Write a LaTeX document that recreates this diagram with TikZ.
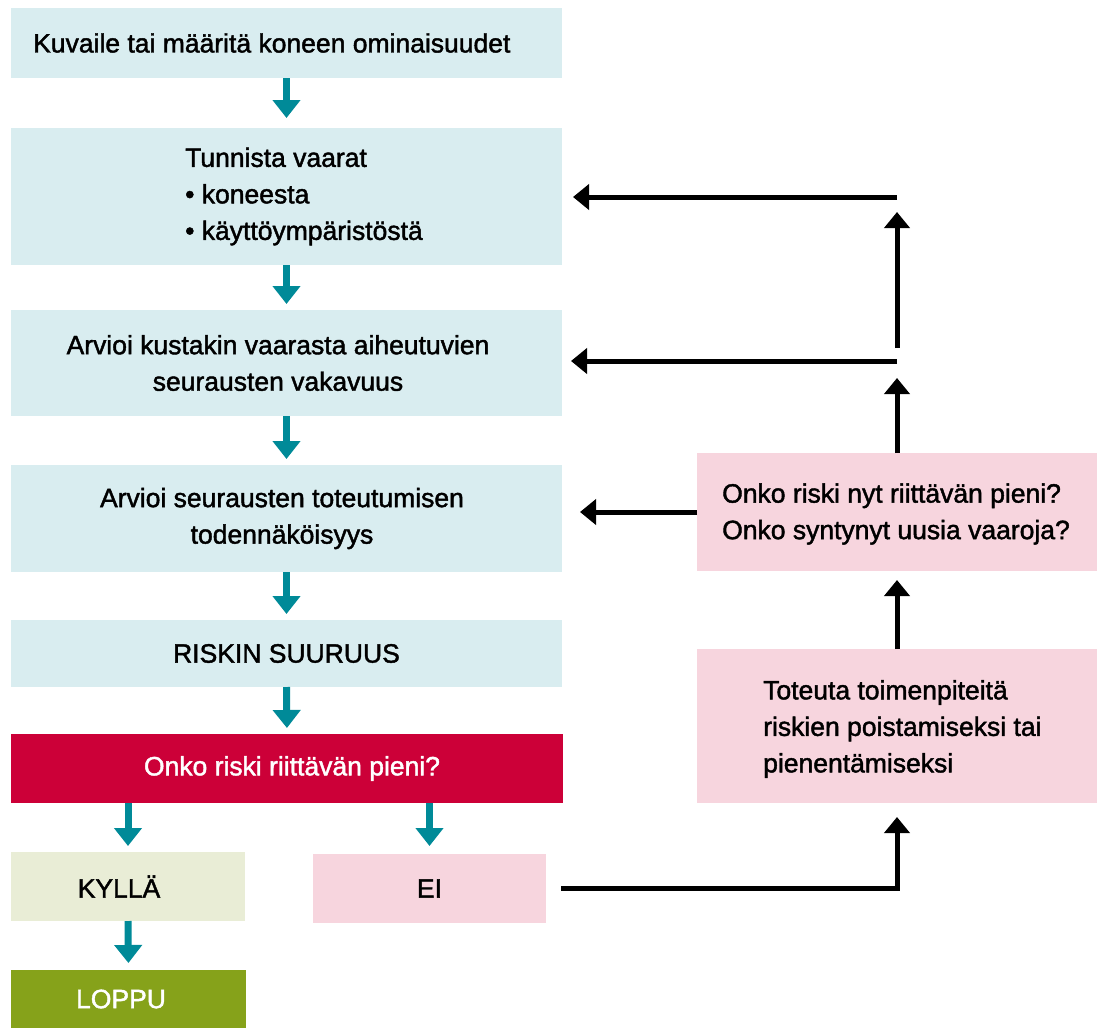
\documentclass[tikz,border=0pt]{standalone}
\usepackage{fontspec}
\setmainfont[FakeBold=1.6]{Liberation Sans}
\usetikzlibrary{arrows.meta}

\definecolor{stepblue}{HTML}{D9EDF0}
\definecolor{flowteal}{HTML}{008A98}
\definecolor{actpink}{HTML}{F7D5DE}
\definecolor{askred}{HTML}{CC0038}
\definecolor{yesgreen}{HTML}{E9EDD6}
\definecolor{endgreen}{HTML}{86A21A}

\begin{document}
\begin{tikzpicture}[x=1pt,y=-1pt,
  every node/.style={font=\fontsize{26.5}{36.5}\selectfont},
  panel/.style={rectangle, inner sep=0pt, outer sep=0pt, anchor=north west, align=center},
  txt/.style={inner sep=0pt, anchor=west, align=left},
  tarr/.style={draw=flowteal, line width=7pt, -{Triangle[width=27pt,length=18pt]}},
  blk/.style={draw=black, line width=5pt, -{Triangle[width=25pt,length=16pt]}}]

\useasboundingbox (0,0) rectangle (1099,1028);

% left column
\node[panel, fill=stepblue, minimum width=551pt, minimum height=70pt] (b1) at (11,8) {};
\node[txt] (t1) at (33,43) {Kuvaile tai määritä koneen ominaisuudet};

\node[panel, fill=stepblue, minimum width=551pt, minimum height=137pt] (b2) at (11,128) {};
\node[txt] (t2) at (185,196.5) {Tunnista vaarat\\• koneesta\\• käyttöympäristöstä};

\node[panel, fill=stepblue, minimum width=551pt, minimum height=106pt] (b3) at (11,310) {};
\node[inner sep=0pt, align=center] (t3) at (278,363)
  {Arvioi kustakin vaarasta aiheutuvien\\seurausten vakavuus};

\node[panel, fill=stepblue, minimum width=551pt, minimum height=107pt] (b4) at (11,465) {};
\node[inner sep=0pt, align=center] (t4) at (282,518.5)
  {Arvioi seurausten toteutumisen\\todennäköisyys};

\node[panel, fill=stepblue, minimum width=551pt, minimum height=67pt] (b5) at (11,620)
  {RISKIN SUURUUS};

\node[panel, fill=askred, minimum width=552pt, minimum height=69pt] (b6) at (11,734) {};
\node[inner sep=0pt, text=white] (t6) at (292,768.5) {Onko riski riittävän pieni?};

\node[panel, fill=yesgreen, minimum width=234pt, minimum height=69pt] (kyl) at (11,852) {};
\node[inner sep=0pt] (tkyl) at (119,886.5) {KYLLÄ};
\node[panel, fill=actpink, minimum width=233pt, minimum height=69pt] (ei) at (313,854) {EI};
\node[panel, fill=endgreen, minimum width=235pt, minimum height=58pt] (lop) at (11,970) {};
\node[inner sep=0pt, text=white] (tlop) at (121,999) {LOPPU};

% right column
\node[panel, fill=actpink, minimum width=400pt, minimum height=118pt] (r1) at (697,453) {};
\node[txt] (tr1) at (722,514) {Onko riski nyt riittävän pieni?\\Onko syntynyt uusia vaaroja?};

\node[panel, fill=actpink, minimum width=400pt, minimum height=154pt] (r2) at (697,649) {};
\node[txt] (tr2) at (763,729) {Toteuta toimenpiteitä\\riskien poistamiseksi tai\\pienentämiseksi};

% main flow
\draw[tarr, shorten >=10pt] (b1.south) -- (b2.north);
\draw[tarr, shorten >=6pt] (b2.south) -- (b3.north);
\draw[tarr, shorten >=6pt] (b3.south) -- (b4.north);
\draw[tarr, shorten >=6pt] (b4.south) -- (b5.north);
\draw[tarr, shorten >=6pt] (b5.south) -- (b6.north);
\draw[tarr, shorten >=6pt] (b6.south -| kyl.north) -- (kyl.north);
\draw[tarr, shorten >=8pt] (b6.south -| ei.north) -- (ei.north);
\draw[tarr, shorten >=7pt] (kyl.south) -- (lop.north);

% feedback loop
\coordinate (j1) at (897,361);
\coordinate (j2) at (897,197);

\draw[blk, shorten <=15pt, shorten >=14pt] (ei.east) -| (r2.south);
\draw[blk, shorten >=9pt] (r2.north) -- (r1.south);
\draw[blk, shorten >=18pt] (r1.west) -- (r1.west -| b4.east);
\draw[blk, shorten >=17pt] (r1.north) -- (j1);
\draw[blk, shorten >=9pt] (j1) -- (j1 -| b3.east);
\draw[blk, shorten <=13pt, shorten >=15pt] (j1) -- (j2);
\draw[blk, shorten >=11pt] (j2) -- (j2 -| b2.east);

\end{tikzpicture}
\end{document}
